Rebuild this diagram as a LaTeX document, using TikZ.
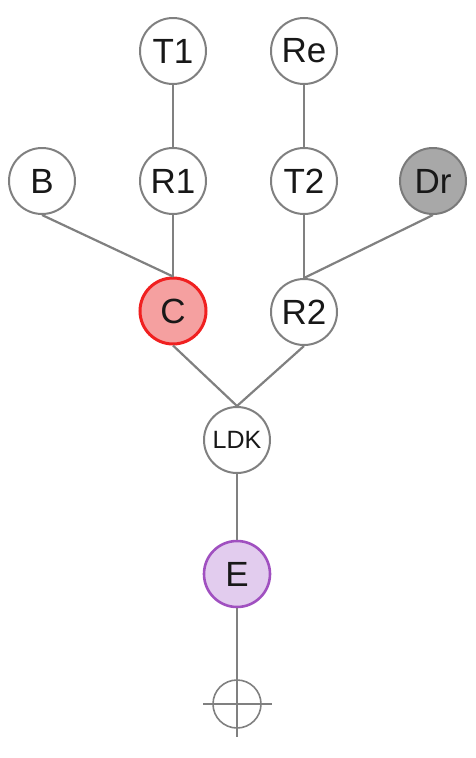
\documentclass[tikz,border=0pt]{standalone}
\usepackage{fontspec}
\setmainfont{Liberation Sans}
\definecolor{edgegray}{HTML}{808080}
\definecolor{cfill}{HTML}{F5A0A0}
\definecolor{cborder}{HTML}{F02020}
\definecolor{drfill}{HTML}{A8A8A8}
\definecolor{drborder}{HTML}{7A7A7A}
\definecolor{efill}{HTML}{E2CCEE}
\definecolor{eborder}{HTML}{A050C0}
\definecolor{txt}{HTML}{181818}
\begin{document}
\begin{tikzpicture}[x=1pt,y=-1pt,
  tnode/.style={circle,draw=edgegray,line width=2pt,fill=white,minimum size=66pt,inner sep=0pt,
    text=txt,font=\fontsize{35}{35}\selectfont},
  cnode/.style={tnode,fill=cfill,draw=cborder,line width=3pt},
  drnode/.style={tnode,fill=drfill,draw=drborder},
  enode/.style={tnode,fill=efill,draw=eborder,line width=2.6pt},
  smalltxt/.style={font=\fontsize{25}{25}\selectfont},
  link/.style={draw=edgegray,line width=2.2pt}]
\useasboundingbox (0,0) rectangle (476,758);
\node[tnode] (T1) at (173,51) {T1};
\node[tnode] (Re) at (304,51) {Re};
\node[tnode] (B) at (42,181) {B};
\node[tnode] (R1) at (173,181) {R1};
\node[tnode] (T2) at (304,181) {T2};
\node[drnode] (Dr) at (433,181) {Dr};
\node[cnode] (C) at (173,311) {C};
\node[tnode] (R2) at (304,312) {R2};
\node[tnode,smalltxt] (LDK) at (237,440) {LDK};
\node[enode] (E) at (237,574) {E};
\node[circle,draw=edgegray,line width=1.6pt,minimum size=48pt,inner sep=0pt] (root) at (237,704) {};
\coordinate (rootbottom) at (237,737);
\coordinate (rootleft) at (203,704);
\coordinate (rootright) at (272,704);
\path[link] (T1.south) -- (R1.north);
\path[link] (Re.south) -- (T2.north);
\path[link] (B.south) -- (C.north);
\path[link] (R1.south) -- (C.north);
\path[link] (T2.south) -- (R2.north);
\path[link] (Dr.south) -- (R2.north);
\path[link] (C.south) -- (LDK.north);
\path[link] (R2.south) -- (LDK.north);
\path[link] (LDK.south) -- (E.north);
\path[link] (E.south) -- (rootbottom);
\path[link,line width=1.6pt] (rootleft) -- (rootright);
\end{tikzpicture}
\end{document}
